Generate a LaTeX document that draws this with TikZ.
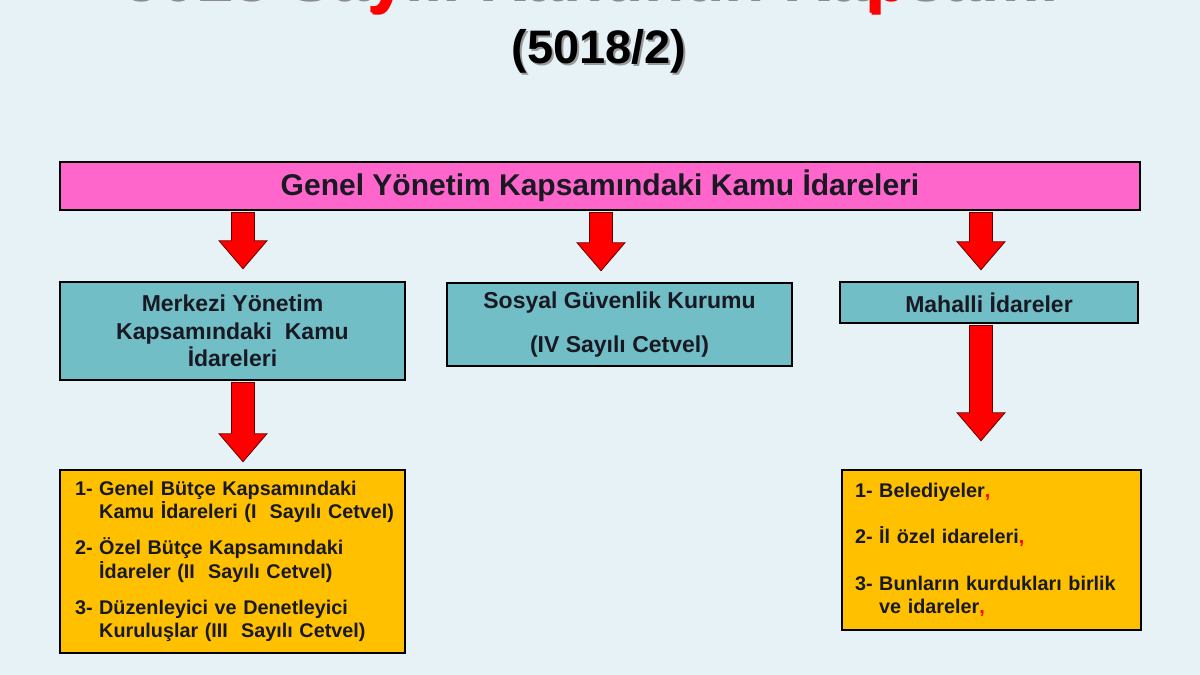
\documentclass[tikz,border=0pt]{standalone}
\usepackage{fontspec}
\setmainfont{Liberation Sans}
\usetikzlibrary{calc,positioning}
\definecolor{bgblue}{RGB}{231,242,246}
\definecolor{barpink}{RGB}{255,102,204}
\definecolor{boxteal}{RGB}{114,190,198}
\definecolor{boxyellow}{RGB}{255,192,0}
\definecolor{arrowred}{RGB}{255,0,0}
\definecolor{inkdark}{RGB}{25,25,35}
\tikzset{
    box/.style={draw=black, line width=2.5pt, text=inkdark, inner sep=0pt},
    pinkbar/.style={box, fill=barpink, minimum width=1080pt, minimum height=48pt,
        font=\bfseries\fontsize{30}{32}\selectfont},
    tealbox/.style={box, fill=boxteal, align=center,
        font=\bfseries\fontsize{23}{27.5}\selectfont},
    yellowbox/.style={box, fill=boxyellow, align=left,
        font=\bfseries\fontsize{19.8}{23.5}\selectfont},
    blockarrow/.style={fill=arrowred, draw=black!60!red, line width=0.8pt, line join=miter},
    titletext/.style={inner sep=0pt, font=\bfseries\fontsize{#1}{#1}\selectfont},
}
% block arrow from #1 down to the tip #2
\newcommand{\redarrow}[2]{%
    \draw[blockarrow] ($(#1)+(-11.5,0)$) -- ($(#2)+(-11.5,-28)$) -- ($(#2)+(-24,-28)$) -- (#2)
        -- ($(#2)+(24,-28)$) -- ($(#2)+(11.5,-28)$) -- ($(#1)+(11.5,0)$) -- cycle;}
\begin{document}
\begin{tikzpicture}[x=1pt,y=-1pt]

            \fill[bgblue] (0,0) rectangle (1200,675);
            \useasboundingbox (0,0) rectangle (1200,675);

            % title
            \node[titletext=66, anchor=base, text=black!45] (titleshade) at (591,1)
                {5018 Sa{\color{arrowred}y}ılı Kanunun Ka{\color{arrowred}p}samı};
            \node[titletext=66, anchor=base, text=black] (title) at (589,-1)
                {5018 Sa{\color{arrowred}y}ılı Kanunun Ka{\color{arrowred}p}samı};
            \node[titletext=47, text=black!40] (subshade) at (601,53) {(5018/2)};
            \node[titletext=47, text=black] (subtitle) at (599,51) {(5018/2)};

            % arrow columns
            \coordinate (colA) at (243,0);
            \coordinate (colB) at (601,0);
            \coordinate (colC) at (981,0);

            \begin{scope}
                \path node[pinkbar] (genel) at (600,186) {Genel Yönetim Kapsamındaki Kamu İdareleri};
                \path node[tealbox, minimum width=345pt, minimum height=98pt] (merkezi) at (232.5,331)
                    {Merkezi Yönetim\\Kapsamındaki\ \ Kamu\\İdareleri};
                \path node[tealbox, minimum width=345pt, minimum height=83pt] (sosyal) at (619.5,324.5)
                    {Sosyal Güvenlik Kurumu\\[17pt](IV Sayılı Cetvel)};
                \path node[tealbox, minimum width=298pt, minimum height=41pt] (mahalli) at (989,302.5)
                    {Mahalli İdareler};
            \end{scope}

            \node[yellowbox, minimum width=345pt, minimum height=183pt, inner xsep=15pt, text width=315pt]
                (merkeziliste) at (232.5,561.5)
                {1- Genel Bütçe Kapsamındaki\\\mbox{\phantom{1- }Kamu İdareleri (I\ \ Sayılı Cetvel)}\\[12.5pt]
                 2- Özel Bütçe Kapsamındaki\\\mbox{\phantom{2- }İdareler (II\ \ Sayılı Cetvel)}\\[12.5pt]
                 3- Düzenleyici ve Denetleyici\\\mbox{\phantom{3- }Kuruluşlar (III\ \ Sayılı Cetvel)}};
            \node[yellowbox, minimum width=299pt, minimum height=160pt, inner xsep=13pt, text width=273pt]
                (mahalliliste) at (991.5,550)
                {1- Belediyeler{\color{arrowred},}\\[23pt]
                 2- İl özel idareleri{\color{arrowred},}\\[23pt]
                 3- Bunların kurdukları birlik\\\phantom{3- }ve idareler{\color{arrowred},}};

            % arrows
            \coordinate (tipA) at ($(merkezi.north -| colA)+(0,-12)$);
            \coordinate (tipB) at ($(sosyal.north -| colB)+(0,-11)$);
            \coordinate (tipC) at ($(mahalli.north -| colC)+(0,-11)$);
            \coordinate (tipD) at ($(merkeziliste.north -| colA)+(0,-7)$);
            \coordinate (tipE) at ($(mahalliliste.north -| colC)+(0,-28)$);
            \redarrow{$(genel.south -| colA)+(0,1.3)$}{tipA}
            \redarrow{$(genel.south -| colB)+(0,1.3)$}{tipB}
            \redarrow{$(genel.south -| colC)+(0,1.3)$}{tipC}
            \redarrow{$(merkezi.south -| colA)+(0,1.3)$}{tipD}
            \redarrow{$(mahalli.south -| colC)+(0,1.3)$}{tipE}
        \end{tikzpicture}
\end{document}
